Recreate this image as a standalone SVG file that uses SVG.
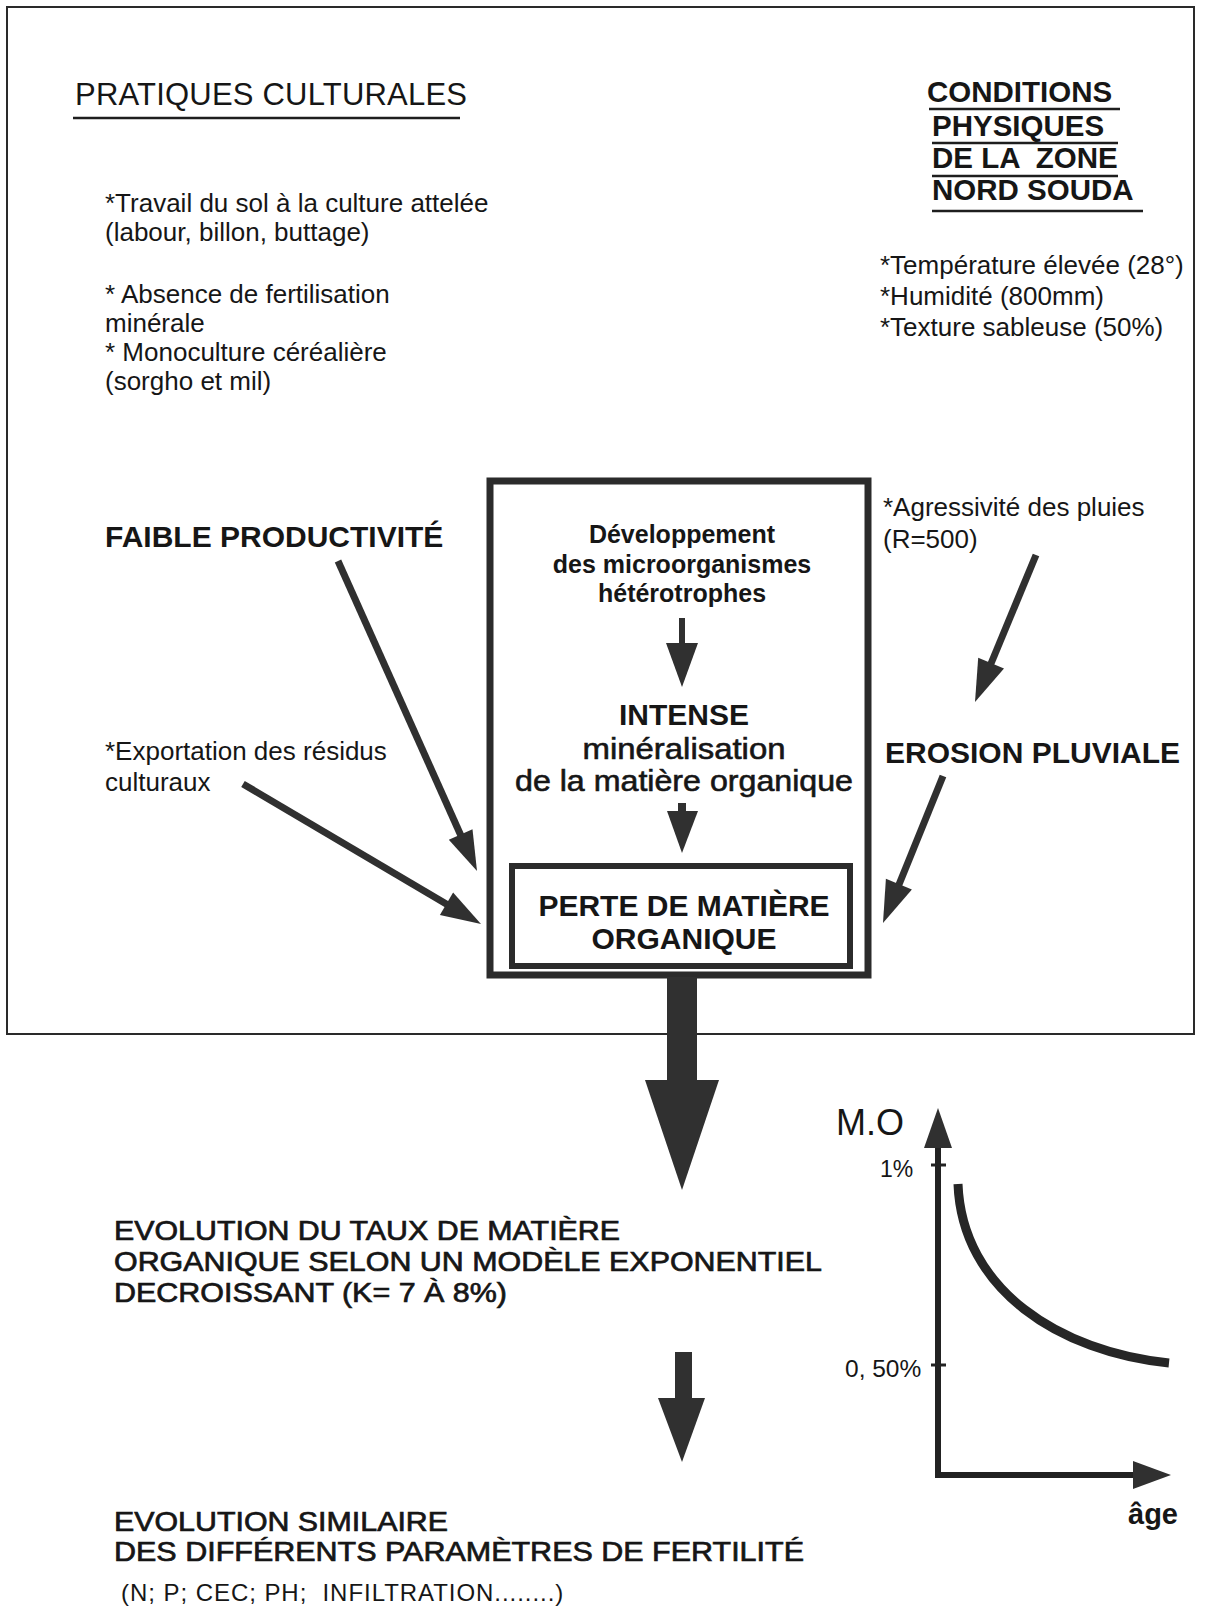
<svg xmlns="http://www.w3.org/2000/svg" width="1205" height="1611" viewBox="0 0 1205 1611">
<style>
text{font-family:"Liberation Sans",Arial,Helvetica,sans-serif;fill:#161616}
.t{font-size:26px}
.h1{font-size:31px;letter-spacing:0.2px}
.hr{font-size:29.5px;font-weight:bold}
.bb{font-size:30px;font-weight:bold}
.bs{font-size:25px;font-weight:bold}
.bm{font-size:29.5px;stroke:#161616;stroke-width:0.6}
.ev{font-size:27.5px;stroke:#161616;stroke-width:0.7}
.sm{font-size:24px;letter-spacing:0.95px}
.mid{text-anchor:middle}
.ul{stroke:#1e1e1e;stroke-width:2.5;fill:none}
.frame{fill:none;stroke:#2a2a2a;stroke-width:2}
.box{fill:none;stroke:#2b2b2b;stroke-width:7}
.ibox{fill:none;stroke:#2b2b2b;stroke-width:6}
.shaft{stroke:#303030;stroke-width:7;fill:none}
.head{fill:#303030}
.axis{stroke:#222;stroke-width:6;fill:none}
.curve{stroke:#262626;stroke-width:9;fill:none}
</style>

<rect class="frame" x="7" y="7" width="1187" height="1027"/>

<g id="pratiques-culturales">
  <text class="h1" x="75" y="105">PRATIQUES CULTURALES</text>
  <line class="ul" x1="73" y1="118" x2="460" y2="118"/>
</g>

<g id="liste-pratiques">
  <text class="t" x="105" y="212">*Travail du sol à la culture attelée</text>
  <text class="t" x="105" y="241">(labour, billon, buttage)</text>
  <text class="t" x="105" y="303">* Absence de fertilisation</text>
  <text class="t" x="105" y="332">minérale</text>
  <text class="t" x="105" y="361">* Monoculture céréalière</text>
  <text class="t" x="105" y="390">(sorgho et mil)</text>
</g>

<g id="conditions-physiques">
  <text class="hr" x="927" y="102">CONDITIONS</text>
  <line class="ul" x1="929" y1="109" x2="1120" y2="109"/>
  <text class="hr" x="932" y="136">PHYSIQUES</text>
  <line class="ul" x1="932" y1="143" x2="1118" y2="143"/>
  <text class="hr" x="932" y="168" xml:space="preserve">DE LA  ZONE</text>
  <line class="ul" x1="932" y1="176" x2="1118" y2="176"/>
  <text class="hr" x="932" y="200">NORD SOUDA</text>
  <line class="ul" x1="932" y1="211" x2="1143" y2="211"/>
</g>

<g id="liste-conditions">
  <text class="t" x="880" y="274">*Température élevée (28°)</text>
  <text class="t" x="880" y="305">*Humidité (800mm)</text>
  <text class="t" x="880" y="336">*Texture sableuse (50%)</text>
</g>

<g id="faible-productivite">
  <text class="bb" x="105" y="547">FAIBLE PRODUCTIVITÉ</text>
</g>

<g id="exportation-residus">
  <text class="t" x="105" y="760">*Exportation des résidus</text>
  <text class="t" x="105" y="791">culturaux</text>
</g>

<g id="agressivite-pluies">
  <text class="t" x="883" y="516">*Agressivité des pluies</text>
  <text class="t" x="883" y="548">(R=500)</text>
</g>

<g id="erosion-pluviale">
  <text class="bb" x="885" y="763">EROSION PLUVIALE</text>
</g>

<g id="processus">
  <rect class="box" x="490" y="481" width="378" height="494"/>
  <g id="developpement">
    <text class="bs mid" x="682" y="543">Développement</text>
    <text class="bs mid" x="682" y="573">des microorganismes</text>
    <text class="bs mid" x="682" y="602">hétérotrophes</text>
  </g>
  <g id="mineralisation">
    <text class="bb mid" x="684" y="725">INTENSE</text>
    <text class="bm mid" x="684" y="759" textLength="203" lengthAdjust="spacingAndGlyphs">minéralisation</text>
    <text class="bm mid" x="684" y="791" textLength="338" lengthAdjust="spacingAndGlyphs">de la matière organique</text>
  </g>
  <g id="perte-matiere-organique">
    <rect class="ibox" x="512" y="866" width="338" height="100"/>
    <text class="bb mid" x="684" y="916">PERTE DE MATIÈRE</text>
    <text class="bb mid" x="684" y="949">ORGANIQUE</text>
  </g>
</g>

<g id="evolution-taux">
  <text class="ev" x="114" y="1240" textLength="506" lengthAdjust="spacingAndGlyphs">EVOLUTION DU TAUX DE MATIÈRE</text>
  <text class="ev" x="114" y="1271" textLength="708" lengthAdjust="spacingAndGlyphs">ORGANIQUE SELON UN MODÈLE EXPONENTIEL</text>
  <text class="ev" x="114" y="1302" textLength="393" lengthAdjust="spacingAndGlyphs">DECROISSANT (K= 7 À 8%)</text>
</g>

<g id="evolution-similaire">
  <text class="ev" x="114" y="1531" textLength="334" lengthAdjust="spacingAndGlyphs">EVOLUTION SIMILAIRE</text>
  <text class="ev" x="114" y="1561" textLength="690" lengthAdjust="spacingAndGlyphs">DES DIFFÉRENTS PARAMÈTRES DE FERTILITÉ</text>
  <text class="sm" x="121" y="1601" xml:space="preserve">(N; P; CEC; PH;  INFILTRATION........)</text>
</g>

<g id="graphique">
  <line class="axis" x1="938" y1="1478" x2="938" y2="1140"/>
  <polygon class="head" points="938,1108 952,1148 924,1148"/>
  <line class="axis" x1="935" y1="1475" x2="1140" y2="1475"/>
  <polygon class="head" points="1171,1475 1133,1461 1133,1489"/>
  <line stroke="#222" stroke-width="3" x1="931" y1="1165" x2="946" y2="1165"/>
  <line stroke="#222" stroke-width="3" x1="931" y1="1365" x2="946" y2="1365"/>
  <path class="curve" d="M958,1184 C962,1290 1060,1352 1169,1363"/>
  <text x="836" y="1135" style="font-size:36px">M.O</text>
  <text x="880" y="1177" style="font-size:23px">1%</text>
  <text x="845" y="1377" style="font-size:24.5px">0, 50%</text>
  <text x="1128" y="1524" style="font-size:29px;font-weight:bold">âge</text>
</g>

<g id="connecteurs">
  <line class="shaft" x1="338" y1="561" x2="462" y2="838"/>
  <polygon class="head" points="477,871 448.8,839.8 472.5,829.2"/>
  <line class="shaft" x1="243" y1="784" x2="448" y2="905"/>
  <polygon class="head" points="481,924 439.9,914.9 453.1,892.5"/>
  <line class="shaft" x1="1036" y1="555" x2="990" y2="666"/>
  <polygon class="head" points="975,702 978.2,657.8 1004,668.6"/>
  <line class="shaft" x1="943" y1="776" x2="898" y2="887"/>
  <polygon class="head" points="883,923 885.9,878.8 911.9,889.4"/>
  <rect class="head" x="679" y="618" width="6" height="26"/>
  <polygon class="head" points="666,643 698,643 682,687"/>
  <rect class="head" x="678" y="803" width="8" height="9"/>
  <polygon class="head" points="667,811 698,811 682,853"/>
  <rect class="head" x="667" y="977" width="30" height="104"/>
  <polygon class="head" points="645,1080 719,1080 682,1190"/>
  <rect class="head" x="675" y="1352" width="17" height="47"/>
  <polygon class="head" points="658,1398 705,1398 682,1462"/>
</g>
</svg>
